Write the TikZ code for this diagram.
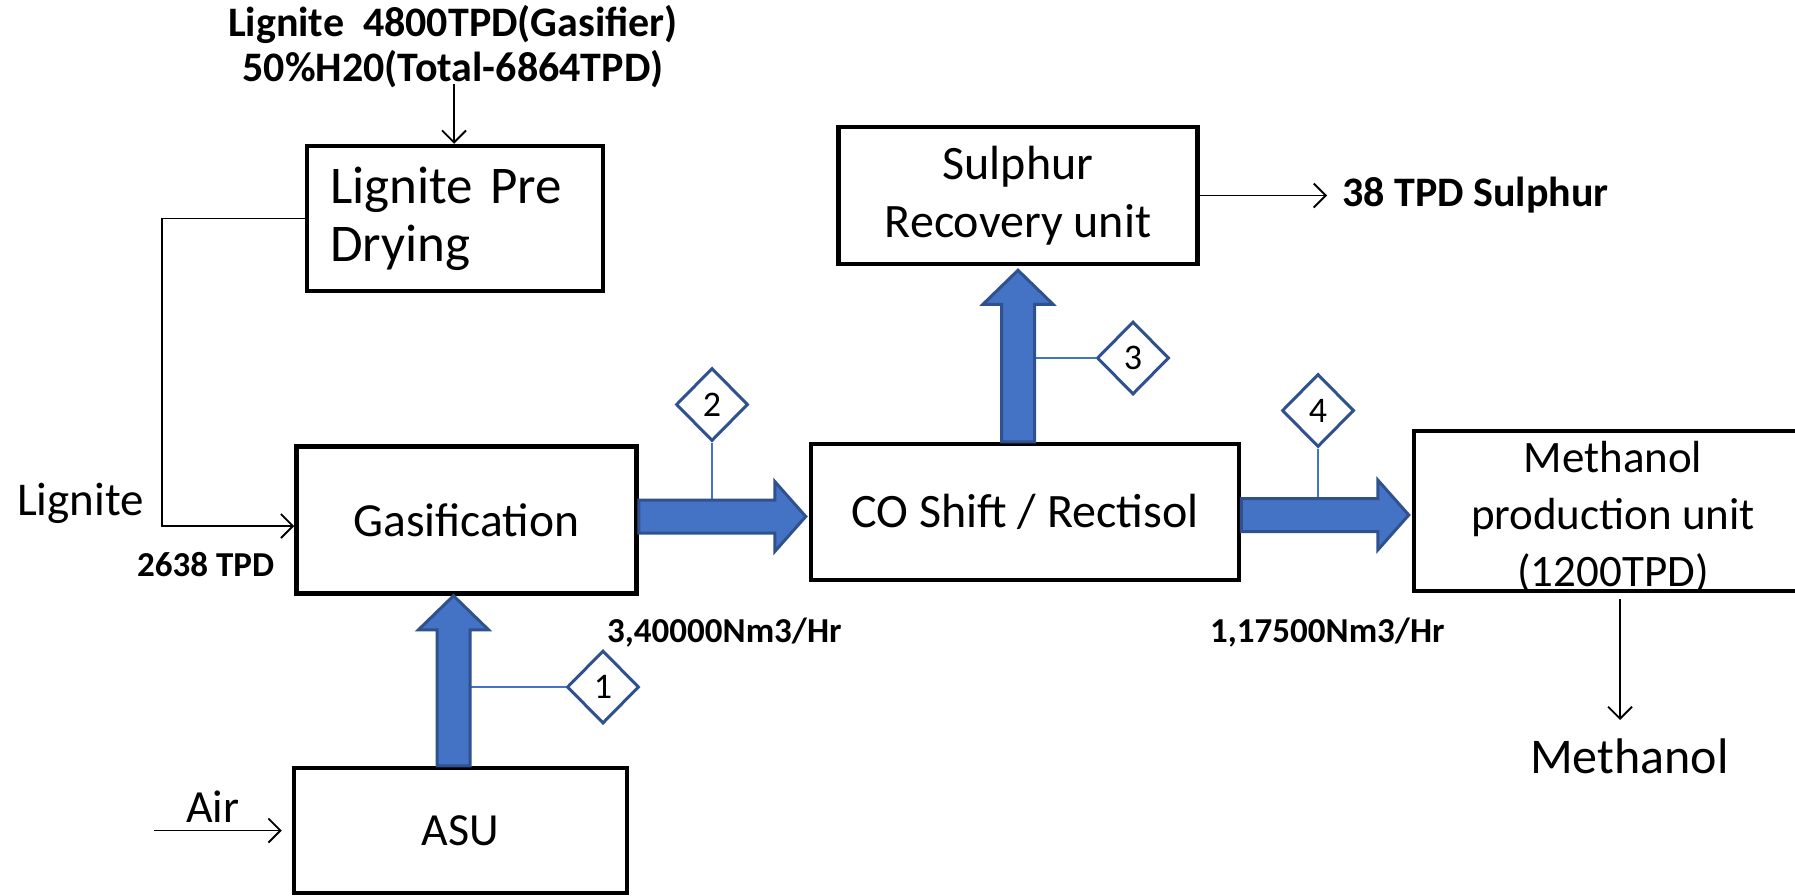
\documentclass[tikz,border=0pt]{standalone}
\usepackage{fontspec}
\setmainfont{Carlito}
\usetikzlibrary{arrows.meta,shapes.geometric,calc}
\definecolor{fatblue}{HTML}{4472C4}
\definecolor{fatedge}{HTML}{2F528F}
\newcommand\fatH[2]{%
  \filldraw[fat] let \p1=(#1), \p2=(#2) in
    (\x1,\y1+16.5pt) -- (\x2-31pt,\y1+16.5pt) -- (\x2-31pt,\y1+35pt) -- (\x2,\y1)
    -- (\x2-31pt,\y1-35pt) -- (\x2-31pt,\y1-16.5pt) -- (\x1,\y1-16.5pt) -- cycle;}
\newcommand\fatV[2]{%
  \filldraw[fat] let \p1=(#1), \p2=(#2) in
    (\x1-16.5pt,\y1) -- (\x1-16.5pt,\y2-34pt) -- (\x1-35pt,\y2-34pt) -- (\x1,\y2)
    -- (\x1+35pt,\y2-34pt) -- (\x1+16.5pt,\y2-34pt) -- (\x1+16.5pt,\y1) -- cycle;}
\begin{document}
\begin{tikzpicture}[x=1pt,y=-1pt,
  unitbox/.style={draw=black, line width=4.5pt, fill=white, inner sep=0pt, align=center,
    font=\fontsize{48}{58}\selectfont},
  thinarrow/.style={draw=black, line width=1.8pt, -{Straight Barb[length=12pt,width=24pt,line width=1.8pt]}},
  fat/.style={fill=fatblue, draw=fatedge, line width=3pt, line join=miter},
  diam/.style={diamond, draw=fatedge, fill=white, line width=3pt, inner sep=0pt,
    minimum width=72pt, minimum height=73pt, font=\fontsize{36}{40}\selectfont},
  tag/.style={draw=fatblue, line width=2pt},
  boldlbl/.style={font=\fontsize{35}{40}\selectfont\bfseries, inner sep=0pt},
  plainlbl/.style={font=\fontsize{47}{56}\selectfont, inner sep=0pt}]
\useasboundingbox (0,0) rectangle (1795,895);
\clip (0,0) rectangle (1795,895);
\fill[white] (0,0) rectangle (1795,895);

% boxes
\node[unitbox, minimum width=296pt, minimum height=145pt, text width=250pt, align=left,
  font=\fontsize{53}{58}\selectfont] (pre) at (455,218.5) {Lignite Pre\\Drying};
\node[unitbox, minimum width=340pt, minimum height=147pt, font=\fontsize{47.5}{56}\selectfont] (gas) at (466.5,520) {Gasification};
\node[unitbox, minimum width=333pt, minimum height=125pt, font=\fontsize{46}{56}\selectfont] (asu) at (460.5,830.5) {ASU};
\node[unitbox, minimum width=428pt, minimum height=136pt] (co) at (1025,512) {CO Shift / Rectisol};
\node[unitbox, minimum width=359pt, minimum height=137pt] (sul) at (1018,195.5) {Sulphur\\Recovery unit};
\node[unitbox, minimum width=398pt, minimum height=160pt] (meth) at (1613,511) {};
\node[align=center, inner sep=0pt, font=\fontsize{45}{57}\selectfont] (methtxt) at (1613,517)
  {Methanol\\production unit\\(1200TPD)};

% feed text
\node[font=\fontsize{42}{45}\selectfont\bfseries, inner sep=0pt, align=center] (feed) at (453,47)
  {Lignite\ \ 4800TPD(Gasifier)\\50\%H20(Total-6864TPD)};
\coordinate (feedend) at (454,84);
\draw[thinarrow] (feedend) -- (pre.north -| feedend);

% lignite line
\coordinate (lg) at (162,526);
\draw[thinarrow] (pre.west) -| (lg) -- (lg -| gas.west);
\node[plainlbl, anchor=base west] (lig) at (17,515) {Lignite};
\node[boldlbl, anchor=base west] (tpd) at (137,576) {2638 TPD};

% air
\coordinate (airs) at (154,830.5);
\draw[thinarrow, shorten >=10pt] (airs) -- (asu.west);
\node[plainlbl, anchor=base west, font=\fontsize{46}{56}\selectfont] (air) at (186,822) {Air};

% sulphur out
\coordinate (sulend) at (1327,195.5);
\draw[thinarrow] (sul.east) -- (sulend);
\node[font=\fontsize{42}{45}\selectfont\bfseries, inner sep=0pt, anchor=base west] (sout) at (1342,206) {38 TPD Sulphur};

% methanol out
\coordinate (ms) at (1620,599);
\coordinate (me) at (1620,720);
\draw[thinarrow] (ms) -- (me);
\node[plainlbl, anchor=base west, font=\fontsize{50}{56}\selectfont] (mout) at (1530,773) {Methanol};

% flow labels
\node[boldlbl, anchor=base west] (f1) at (607,642) {3,40000Nm3/Hr};
\node[boldlbl, anchor=base west] (f2) at (1210,642) {1,17500Nm3/Hr};

% diamonds and tags
\node[diam] (d1) at (603,687) {1};
\node[diam] (d2) at (712,404.5) {2};
\node[diam] (d3) at (1133,358) {3};
\node[diam] (d4) at (1318,410.5) {4};
\coordinate (s1) at (470,687);
\coordinate (s2) at (712,500);
\coordinate (s3) at (1034,358);
\coordinate (s4) at (1318,499);
\draw[tag] (s1) -- (d1.west);
\draw[tag] (d2.south) -- (s2);
\draw[tag] (s3) -- (d3.west);
\draw[tag] (d4.south) -- (s4);

% fat arrows
\fatH{$(gas.east)+(0,-3.5)$}{$(co.west)+(-3,0)$}
\fatH{$(co.east)+(0,3)$}{$(meth.west)+(-3,0)$}
\fatV{$(asu.north)+(-7,0)$}{gas.south}
\fatV{$(co.north)+(-7,0)$}{$(sul.south)+(0,4)$}
\end{tikzpicture}
\end{document}
